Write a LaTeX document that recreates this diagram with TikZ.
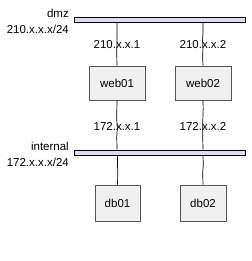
\documentclass[tikz,border=0pt]{standalone}
\usepackage{fontspec}
\setmainfont{Liberation Sans}
\usepackage{tikz}
\usetikzlibrary{decorations.pathmorphing}
\definecolor{netfill}{HTML}{DCDCEE}
\definecolor{hostfill}{HTML}{F0F0F0}
\definecolor{hostline}{HTML}{555555}

\begin{document}
\begin{tikzpicture}[
    x=1pt, y=-1pt,
    sketch/.style={decorate, decoration={random steps, segment length=9pt, amplitude=0.45pt}},
    net/.style={rectangle, draw=black, fill=netfill, line width=0.8pt, minimum width=171pt, minimum height=5pt, inner sep=0pt},
    host/.style={rectangle, draw=hostline, fill=hostfill, line width=0.6pt, minimum height=#1, inner sep=0pt, font=\fontsize{11.5}{13}\selectfont},
    lbl/.style={font=\fontsize{11.5}{13}\selectfont, inner sep=1pt},
    link/.style={draw=black, line width=0.7pt},
  ]
  \useasboundingbox (0,0) rectangle (251,261);

  % Networks
  \node[net] (dmz) at (159.5,19.5) {};
  \node[net] (internal) at (159.5,152.5) {};
  \node[lbl, anchor=east] (dmzname) at (70,13) {dmz};
  \node[lbl, anchor=east] (dmzaddr) at (70,29) {210.x.x.x/24};
  \node[lbl, anchor=east] (intname) at (70,146) {internal};
  \node[lbl, anchor=east] (intaddr) at (70,162) {172.x.x.x/24};

  % Hosts
  \node[host=34pt, minimum width=56pt] (web01) at (117,83) {web01};
  \node[host=34pt, minimum width=56pt] (web02) at (203,83) {web02};
  \node[host=36pt, minimum width=45pt] (db01) at (117.5,203) {db01};
  \node[host=36pt, minimum width=46pt] (db02) at (203,203) {db02};

  % Links
  \draw[link, sketch] (web01.north |- dmz.south) -- node[lbl] {210.x.x.1} (web01.north);
  \draw[link, sketch] (web02.north |- dmz.south) -- node[lbl] {210.x.x.2} (web02.north);
  \draw[link, sketch] (web01.south) -- node[lbl, yshift=-2pt] {172.x.x.1} (web01.south |- internal.north);
  \draw[link, sketch] (web02.south) -- node[lbl, yshift=-2pt] {172.x.x.2} (web02.south |- internal.north);
  \draw[link, sketch] (db01.north |- internal.south) -- (db01.north);
  \draw[link, sketch] (db02.north |- internal.south) -- (db02.north);
\end{tikzpicture}
\end{document}
